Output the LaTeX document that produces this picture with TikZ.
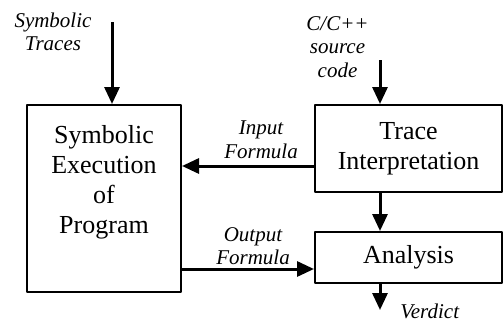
\documentclass[tikz,border=0pt]{standalone}
\usepackage{fontspec}
\setmainfont{Liberation Serif}
\usetikzlibrary{arrows.meta}
\tikzset{
	box/.style={draw, line width=1pt, align=center, inner sep=0pt, font=\fontsize{13}{15}\selectfont},
	lbl/.style={align=center, inner sep=0pt, font=\fontsize{10.5}{11.8}\selectfont\itshape},
}
\begin{document}
\begin{tikzpicture}[x=.5pt, y=-.5pt, line join=round, >={Triangle[length=8.5pt,width=7.5pt]}]
	\useasboundingbox (0,0) rectangle (504,322);
	% boxes
	\node[box, minimum width=77pt, minimum height=93.5pt,
		label={[box, draw=none, anchor=north, yshift=-10pt]north:Symbolic\\Execution\\of\\Program}] (sym) at (104,198.5) {};
	\node[box, minimum width=93.5pt, minimum height=43.5pt] (trace) at (408.5,148.5) {Trace\\Interpretation};
	\node[box, minimum width=93.5pt, minimum height=25.5pt] (ana) at (408.5,257.5) {Analysis};
	% labels
	\node[lbl] (traces) at (53,32) {Symbolic\\Traces};
	\node[lbl] (src) at (337.5,47) {C/C++\\source\\code};
	\node[lbl] (infml) at (261,140) {Input\\Formula};
	\node[lbl] (outfml) at (253,246) {Output\\Formula};
	\node[lbl, anchor=base west] (verdict) at (400,318) {Verdict};
	\path (112,22) coordinate (st)
	(380,60) coordinate (cs)
	(380,0) coordinate (mid)
	(0,166) coordinate (iny)
	(0,269) coordinate (outy)
	(380,310) coordinate (vd);
	% connectors
	\begin{scope}[line width=1.5pt]
		\draw[->] (st) -- (st |- sym.north);
		\draw[->] (cs) -- (cs |- trace.north);
		\draw[->] (mid |- trace.south) -- (mid |- ana.north);
		\draw[->] (mid |- ana.south) -- (vd);
		\draw[->] (trace.west |- iny) -- (sym.east |- iny);
		\draw[->] (sym.east |- outy) -- (ana.west |- outy);
	\end{scope}
\end{tikzpicture}
\end{document}
